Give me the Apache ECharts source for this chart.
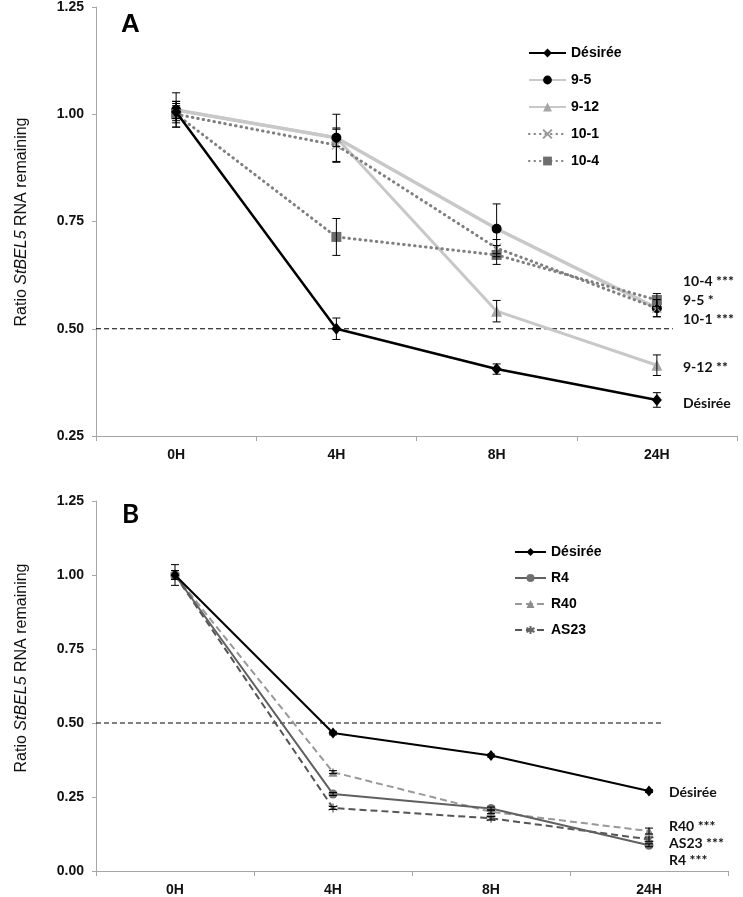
<!DOCTYPE html>
<html>
<head>
<meta charset="utf-8">
<script src="https://cdn.jsdelivr.net/npm/echarts@6/dist/echarts.min.js"></script>
<style>html,body{margin:0;padding:0;background:#fff}#c{width:743px;height:897px}</style>
</head>
<body>
<div id="c"></div>
<script>
// ---------- data ----------
const timepoints = ['0H', '4H', '8H', '24H'];
const yTicksA = [0.25, 0.50, 0.75, 1.00, 1.25];
const yTicksB = [0.00, 0.25, 0.50, 0.75, 1.00, 1.25];

// Panel A
const namesA = ['Désirée', '9-5', '9-12', '10-1', '10-4'];
const desireeA = [1.005, 0.500, 0.406, 0.334];
const desireeAErr = [0.02, 0.025, 0.012, 0.017];
const l95 = [1.010, 0.945, 0.733, 0.548];
const l95Err = [0.04, 0.055, 0.058, 0.02];
const l912 = [1.010, 0.945, 0.541, 0.415];
const l912Err = [0.02, 0.02, 0.025, 0.024];
const l101 = [1.000, 0.928, 0.688, 0.548];
const l101Err = [0.03, 0.04, 0.02, 0.02];
const l104 = [1.000, 0.714, 0.672, 0.567];
const l104Err = [0.02, 0.043, 0.022, 0.015];
const refLineA = [[0, 0.5], [3.6, 0.5]];
const annotA = ['10-4 ***', '9-5 *', '10-1 ***', '9-12 **', 'Désirée'];

// Panel B
const namesB = ['Désirée', 'R4', 'R40', 'AS23'];
const desireeB = [1.000, 0.466, 0.390, 0.270];
const desireeBErr = [0.035, 0.006, 0.005, 0.005];
const r4 = [1.000, 0.260, 0.211, 0.087];
const r4Err = [0.015, 0.005, 0.005, 0.005];
const r40 = [1.000, 0.334, 0.200, 0.135];
const r40Err = [0.015, 0.005, 0.006, 0.01];
const as23 = [1.000, 0.213, 0.178, 0.107];
const as23Err = [0.015, 0.005, 0.006, 0.008];
const refLineB = [[0, 0.5], [3.58, 0.5]];
const annotB = ['Désirée', 'R40 ***', 'AS23 ***', 'R4 ***'];

// ---------- helpers ----------
const BSUFFIX = '\u200b';
function errData(vals, errs) { return vals.map((v, i) => [i, v, errs[i]]); }
function errRender(params, api) {
  const x = api.value(0), v = api.value(1), e = api.value(2);
  const t = api.coord([x, v + e]), b = api.coord([x, v - e]);
  const w = 4, st = { stroke: '#000', lineWidth: 1 };
  return { type: 'group', children: [
    { type: 'line', shape: { x1: t[0], y1: t[1], x2: b[0], y2: b[1] }, style: st },
    { type: 'line', shape: { x1: t[0] - w, y1: t[1], x2: t[0] + w, y2: t[1] }, style: st },
    { type: 'line', shape: { x1: b[0] - w, y1: b[1], x2: b[0] + w, y2: b[1] }, style: st }
  ]};
}
function errSeries(vals, errs, gi) {
  return { type: 'custom', xAxisIndex: gi * 2, yAxisIndex: gi, renderItem: errRender,
    data: errData(vals, errs), silent: true, z: 5, encode: { x: 0, y: 1 } };
}
const xPath = 'path://M0,0L10,10M10,0L0,10';
const starPath = 'path://M5,0L5,10M0.7,2.5L9.3,7.5M0.7,7.5L9.3,2.5';

const axisGray = '#a6a6a6';
const tickFont = { fontFamily: "'Liberation Sans', Arial, sans-serif", fontWeight: 'bold', fontSize: 14, color: '#111' };
const xFont = { fontFamily: "'Liberation Sans Narrow', 'Liberation Sans', Arial, sans-serif", fontWeight: 'bold', fontSize: 14, color: '#111' };
const annFont = "Lato, 'Open Sans', sans-serif";

function yAxis(gi, min, ticks) {
  return { type: 'value', gridIndex: gi, min: min, max: ticks[ticks.length - 1], interval: 0.25,
    axisLine: { show: true, lineStyle: { color: axisGray, width: 1 } },
    axisTick: { show: true, inside: false, length: 4, lineStyle: { color: axisGray } },
    splitLine: { show: false },
    axisLabel: Object.assign({ margin: 12, formatter: v => v.toFixed(2) }, tickFont) };
}
function xCat(gi) {
  return { type: 'category', gridIndex: gi, data: timepoints, boundaryGap: true,
    axisLine: { show: true, lineStyle: { color: axisGray, width: 1 } },
    axisTick: { show: true, length: 5, lineStyle: { color: axisGray } },
    axisLabel: Object.assign({ margin: 12 }, xFont) };
}
function xHidden(gi) {
  return { type: 'value', gridIndex: gi, min: 0, max: 4, show: false };
}

const chart = echarts.init(document.getElementById('c'), null, { renderer: 'canvas' });

const series = [
  // Panel A reference line
  { type: 'line', xAxisIndex: 1, yAxisIndex: 0, data: refLineA, symbol: 'none', silent: true,
    lineStyle: { color: '#000', width: 1, type: [5, 3] }, z: 1 },
  { name: '9-12', type: 'line', xAxisIndex: 0, yAxisIndex: 0, data: l912, symbol: 'triangle', symbolSize: 11,
    lineStyle: { color: '#c8c8c8', width: 3 }, itemStyle: { color: '#a6a6a6' }, z: 2 },
  { name: '9-5', type: 'line', xAxisIndex: 0, yAxisIndex: 0, data: l95, symbol: 'circle', symbolSize: 10,
    lineStyle: { color: '#c8c8c8', width: 3.5 }, itemStyle: { color: '#000' }, z: 2 },
  { name: '10-1', type: 'line', xAxisIndex: 0, yAxisIndex: 0, data: l101, symbol: xPath, symbolSize: 9,
    lineStyle: { color: '#7f7f7f', width: 3, type: [0.5, 5], cap: 'round' },
    itemStyle: { color: 'none', borderColor: '#9a9a9a', borderWidth: 1.3 }, z: 3 },
  { name: '10-4', type: 'line', xAxisIndex: 0, yAxisIndex: 0, data: l104, symbol: 'rect', symbolSize: 10,
    lineStyle: { color: '#7f7f7f', width: 3, type: [0.5, 5], cap: 'round' },
    itemStyle: { color: '#6d6d6d' }, z: 3 },
  { name: 'Désirée', type: 'line', xAxisIndex: 0, yAxisIndex: 0, data: desireeA, symbol: 'diamond', symbolSize: [10, 12],
    lineStyle: { color: '#000', width: 2.5 }, itemStyle: { color: '#000' }, z: 4 },
  errSeries(desireeA, desireeAErr, 0), errSeries(l95, l95Err, 0), errSeries(l912, l912Err, 0),
  errSeries(l101, l101Err, 0), errSeries(l104, l104Err, 0),

  // Panel B reference line
  { type: 'line', xAxisIndex: 3, yAxisIndex: 1, data: refLineB, symbol: 'none', silent: true,
    lineStyle: { color: '#000', width: 1, type: [5, 3] }, z: 1 },
  { name: 'R40', type: 'line', xAxisIndex: 2, yAxisIndex: 1, data: r40, symbol: 'triangle', symbolSize: 9,
    lineStyle: { color: '#999', width: 2, type: [7, 4] }, itemStyle: { color: '#8c8c8c' }, z: 2 },
  { name: 'AS23', type: 'line', xAxisIndex: 2, yAxisIndex: 1, data: as23, symbol: starPath, symbolSize: 9,
    lineStyle: { color: '#555', width: 2, type: [7, 4] },
    itemStyle: { color: 'none', borderColor: '#666', borderWidth: 1.3 }, z: 2 },
  { name: 'R4', type: 'line', xAxisIndex: 2, yAxisIndex: 1, data: r4, symbol: 'circle', symbolSize: 9,
    lineStyle: { color: '#606060', width: 2 }, itemStyle: { color: '#707070' }, z: 3 },
  { name: 'Désirée' + BSUFFIX, type: 'line', xAxisIndex: 2, yAxisIndex: 1, data: desireeB, symbol: 'diamond', symbolSize: [9, 11],
    lineStyle: { color: '#000', width: 2 }, itemStyle: { color: '#000' }, z: 4 },
  errSeries(desireeB, desireeBErr, 1), errSeries(r4, r4Err, 1), errSeries(r40, r40Err, 1), errSeries(as23, as23Err, 1)
];

const legendText = { fontFamily: "'Liberation Sans', Arial, sans-serif", fontWeight: 'bold', fontSize: 14, color: '#000' };

function yName(x, y) {
  return { type: 'text', x: x, y: y, rotation: Math.PI / 2,
    style: { text: '{a|Ratio }{b|StBEL5}{a| RNA remaining}', align: 'center', verticalAlign: 'middle',
      rich: { a: { fontFamily: "'Liberation Sans', Arial, sans-serif", fontSize: 16, fill: '#111' },
              b: { fontFamily: "'Liberation Sans', Arial, sans-serif", fontSize: 16, fontStyle: 'italic', fill: '#111' } } } };
}
function ann(text, x, y) {
  return { type: 'text', x: x, y: y, style: { text: text, fontFamily: annFont, fontWeight: 'bold', fontSize: 14,
    fill: '#111', verticalAlign: 'middle', align: 'left' } };
}

chart.setOption({
  animation: false,
  backgroundColor: '#fff',
  grid: [
    { left: 96, top: 7, width: 641, height: 429 },
    { left: 96, top: 501, width: 632, height: 371 }
  ],
  xAxis: [xCat(0), xHidden(0), xCat(1), xHidden(1)],
  yAxis: [yAxis(0, 0.25, yTicksA), yAxis(1, 0, yTicksB)],
  legend: [
    { data: namesA, orient: 'vertical', left: 523, top: 41, itemWidth: 37, itemHeight: 11, itemGap: 13,
      textStyle: legendText, selectedMode: false },
    { data: namesB.map((n, i) => i === 0 ? n + BSUFFIX : n), orient: 'vertical', left: 509, top: 540,
      itemWidth: 31, itemHeight: 10, itemGap: 12, textStyle: legendText, selectedMode: false,
      formatter: n => n.replace(BSUFFIX, '') }
  ],
  graphic: [
    { type: 'text', x: 121, y: 25, style: { text: 'A', fontFamily: "'Liberation Sans', Arial, sans-serif", fontWeight: 'bold', fontSize: 26, fill: '#000', verticalAlign: 'middle' } },
    { type: 'text', x: 122, y: 515, style: { text: 'B', fontFamily: "Lato, 'Liberation Sans', sans-serif", fontWeight: 'bold', fontSize: 26, fill: '#000', verticalAlign: 'middle' } },
    yName(22, 222), yName(22, 668),
    ann(annotA[0], 683, 281), ann(annotA[1], 683, 300), ann(annotA[2], 683, 319),
    ann(annotA[3], 683, 367), ann(annotA[4], 683, 403),
    ann(annotB[0], 669, 792), ann(annotB[1], 669, 826), ann(annotB[2], 669, 843), ann(annotB[3], 669, 860)
  ],
  series: series
});
</script>
</body>
</html>
